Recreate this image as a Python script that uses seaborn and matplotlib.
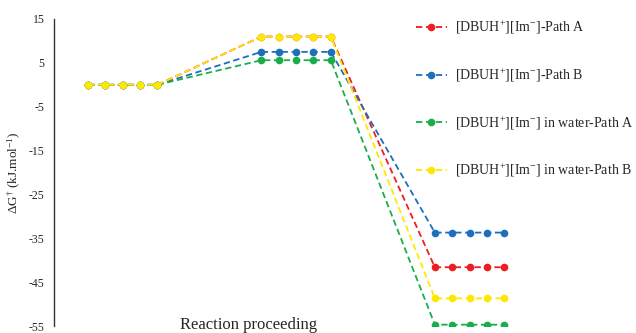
import numpy as np
import pandas as pd
import matplotlib
matplotlib.use("Agg")
import matplotlib.pyplot as plt
import seaborn as sns

sns.set_theme(style="white")
plt.rcParams['font.family'] = ['Liberation Serif', 'DejaVu Serif']
plt.rcParams['mathtext.fontset'] = 'custom'
plt.rcParams['mathtext.rm'] = 'Liberation Serif'
plt.rcParams['mathtext.it'] = 'Liberation Serif:italic'
plt.rcParams['axes.unicode_minus'] = False

# energy level of each stage (reactant, TS, product), kJ/mol
series_names = ["[DBUH$^{+}$][Im$^{-}$]-Path A",
                "[DBUH$^{+}$][Im$^{-}$]-Path B",
                "[DBUH$^{+}$][Im$^{-}$] in water-Path A",
                "[DBUH$^{+}$][Im$^{-}$] in water-Path B"]
path_a = [0, 11.0, -41.6]
path_b = [0, 7.5, -33.7]
water_a = [0, 5.6, -54.7]
water_b = [0, 11.0, -48.7]
colors = ["#ee1d23", "#1c6fbd", "#1aae4b", "#ffe800"]

pts_per_stage = 5
stage_gap = 10

rows = []
for name, levels in zip(series_names, [path_a, path_b, water_a, water_b]):
    for s, lev in enumerate(levels):
        for k in range(pts_per_stage):
            rows.append({"step": s * stage_gap + k, "dG": lev, "series": name})
df = pd.DataFrame(rows)

fig = plt.figure(figsize=(6.36, 3.33), dpi=100)
ax = fig.add_axes([0.085, 0.021, 0.915, 0.922])

for name, c in zip(series_names, colors):
    sub = df[df.series == name]
    sns.lineplot(data=sub, x="step", y="dG", ax=ax, color=c, linestyle="--",
                 marker="o", markersize=5.5, markeredgewidth=0, linewidth=1.3,
                 label=name)
    ax.lines[-1].set_dashes([3.5, 2])

ax.set_ylim(-55, 15)
ax.set_xlim(-1.96, 31.6)
ax.set_yticks(np.arange(-55, 16, 10))
ax.set_xticks([])
ax.tick_params(axis='y', labelsize=8.5, pad=7, length=0)
for sp in ["top", "right", "bottom"]:
    ax.spines[sp].set_visible(False)
ax.spines["left"].set_color("#333333")
ax.spines["left"].set_linewidth(1.0)

ax.set_ylabel("ΔG$^{\u2020}$ (kJ.mol$^{-1}$)", fontsize=9.5, labelpad=5)
ax.set_xlabel("Reaction proceeding", fontsize=12)
ax.xaxis.set_label_coords(0.335, 0.03)

leg = ax.legend(loc="upper left", bbox_to_anchor=(0.622, 1.0), frameon=False,
                fontsize=10, handlelength=2.2, labelspacing=2.2,
                handletextpad=0.6, borderpad=0, borderaxespad=0)
for h in leg.legend_handles:
    h.set_dashes([3.5, 2])

fig.savefig("out.png", dpi=100)
